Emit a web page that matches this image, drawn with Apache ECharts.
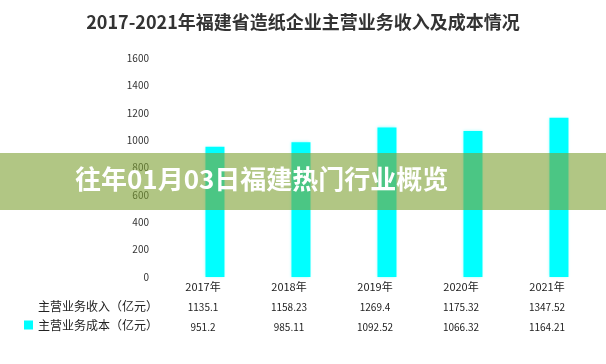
<!DOCTYPE html>
<html>
<head>
<meta charset="utf-8">
<script src="https://cdn.jsdelivr.net/npm/echarts@6/dist/echarts.min.js"></script>
<style>
html,body{margin:0;padding:0;background:#fff;}
#c{width:606px;height:364px;}
</style>
</head>
<body>
<div id="c"></div>
<script>
var titleText = '2017-2021年福建省造纸企业主营业务收入及成本情况';
var bannerText = '往年01月03日福建热门行业概览';
var years = ['2017年', '2018年', '2019年', '2020年', '2021年'];
var revenueName = '主营业务收入（亿元）';
var costName = '主营业务成本（亿元）';
var revenue = [1135.1, 1158.23, 1269.4, 1175.32, 1347.52];
var cost = [951.2, 985.11, 1092.52, 1066.32, 1164.21];
var yTicks = [0, 200, 400, 600, 800, 1000, 1200, 1400, 1600];

var chart = echarts.init(document.getElementById('c'));
var font = '"Noto Sans CJK SC", "Noto Sans", sans-serif';
chart.setOption({
  animation: false,
  backgroundColor: '#fff',
  textStyle: { fontFamily: font },
  title: {
    text: titleText,
    left: 'center',
    top: 8,
    textStyle: { fontSize: 18, fontWeight: 'bold', color: '#333', fontFamily: font }
  },
  legend: {
    orient: 'vertical',
    left: 24,
    top: 300,
    padding: 0,
    itemGap: 7,
    itemWidth: 9,
    itemHeight: 9,
    icon: 'rect',
    data: [revenueName, costName],
    textStyle: { fontSize: 12, color: '#222', fontFamily: font }
  },
  grid: { left: 160, right: 16, top: 58, bottom: 87 },
  xAxis: {
    type: 'category',
    data: years,
    axisLine: { show: false },
    axisTick: { show: false },
    axisLabel: {
      margin: 0,
      interval: 0,
      formatter: function (v, i) {
        return '{y|' + v + '}\n{v|' + revenue[i] + '}\n{v|' + cost[i] + '}';
      },
      rich: {
        y: { fontSize: 11, lineHeight: 20, color: '#222', fontFamily: font },
        v: { fontSize: 10, lineHeight: 20, color: '#222', fontFamily: font }
      }
    }
  },
  yAxis: {
    type: 'value',
    min: yTicks[0],
    max: yTicks[yTicks.length - 1],
    interval: yTicks[1] - yTicks[0],
    axisLine: { show: false },
    axisTick: { show: false },
    splitLine: { show: false },
    axisLabel: {
      margin: 11, fontSize: 10, color: '#333', fontFamily: font,
      formatter: function (v) { return String(v); }
    }
  },
  series: [
    {
      name: revenueName,
      type: 'bar',
      barWidth: 19,
      barGap: '26%',
      data: revenue,
      itemStyle: { color: 'rgba(255,255,255,0)' }
    },
    {
      name: costName,
      type: 'bar',
      barWidth: 19,
      data: cost,
      itemStyle: { color: '#00ffff', shadowColor: 'rgba(0,255,255,0.4)', shadowBlur: 3 }
    }
  ],
  graphic: [
    {
      type: 'rect',
      left: 0,
      top: 153,
      shape: { width: 606, height: 57 },
      style: { fill: 'rgba(125,160,50,0.6)' },
      z: 100
    },
    {
      type: 'text',
      left: 75,
      top: 166,
      style: {
        text: bannerText,
        fill: '#fff',
        font: 'bold 26px "Noto Sans CJK SC", sans-serif'
      },
      z: 101
    }
  ]
});
</script>
</body>
</html>
